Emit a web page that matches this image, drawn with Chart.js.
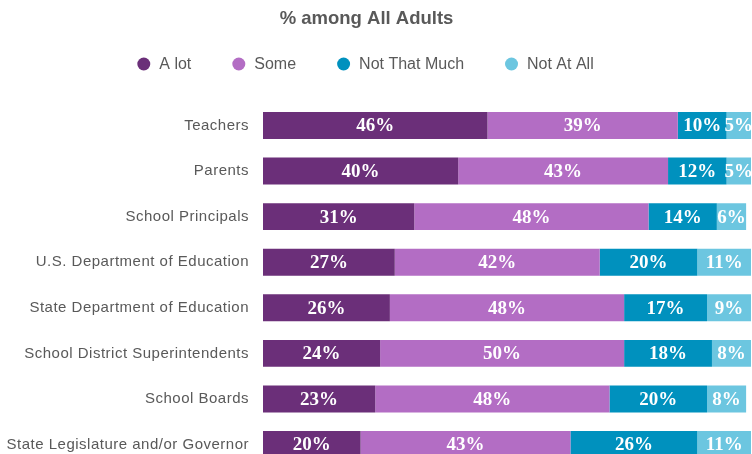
<!DOCTYPE html>
<html><head><meta charset="utf-8">
<script src="https://cdn.jsdelivr.net/npm/chart.js@4"></script>
<style>html,body{margin:0;padding:0;background:#fff;overflow:hidden;}#wrap{position:relative;width:752px;height:470px;}</style>
</head><body>
<div id="wrap"><canvas id="c"></canvas></div>
<script>
const categories = ["Teachers","Parents","School Principals","U.S. Department of Education","State Department of Education","School District Superintendents","School Boards","State Legislature and/or Governor"];
const aLot = [46,40,31,27,26,24,23,20];
const some = [39,43,48,42,48,50,48,43];
const notThatMuch = [10,12,14,20,17,18,20,26];
const notAtAll = [5,5,6,11,9,8,8,11];
const seriesNames = ["A lot","Some","Not That Much","Not At All"];
const titleText = "% among All Adults";
const colors = ["#6b2f79","#b36dc4","#0091be","#6cc6e0"];
const SANS = '"Liberation Sans", Arial, sans-serif';

const spacingPlugin = {
  id:'tickSpacing',
  beforeDraw(chart){ chart.ctx.letterSpacing = '0.5px'; },
  beforeDatasetsDraw(chart){ chart.ctx.letterSpacing = '0px'; }
};

const labelPlugin = {
  id:'segLabels',
  afterDatasetsDraw(chart){
    const ctx = chart.ctx;
    ctx.save();
    ctx.letterSpacing = '0px';
    ctx.font = 'bold 19px "Liberation Serif", serif';
    ctx.fillStyle = '#ffffff';
    ctx.textAlign = 'center';
    ctx.textBaseline = 'middle';
    chart.data.datasets.forEach((ds,di)=>{
      const meta = chart.getDatasetMeta(di);
      meta.data.forEach((bar,i)=>{
        const cx = (bar.x + bar.base)/2;
        ctx.fillText(ds.data[i] + '%', cx, bar.y + 1);
      });
    });
    ctx.restore();
  }
};

const headerPlugin = {
  id:'header',
  afterDraw(chart){
    const ctx = chart.ctx;
    const cxCenter = 365.5;
    ctx.save();
    ctx.letterSpacing = '0px';
    ctx.fillStyle = '#595959';
    ctx.textBaseline = 'middle';
    ctx.textAlign = 'center';
    ctx.font = 'bold 18.5px ' + SANS;
    ctx.fillText(titleText, cxCenter + 1, 19);
    ctx.font = '16px ' + SANS;
    const r = 6.5, textGap = 15.5, itemGap = 41;
    const widths = seriesNames.map(n => ctx.measureText(n).width);
    let total = 0;
    widths.forEach((w,i)=>{ total += r + textGap + w + (i < widths.length-1 ? itemGap : 0); });
    let x = cxCenter - total/2;
    const y = 64;
    ctx.textAlign = 'left';
    seriesNames.forEach((n,i)=>{
      const cx = x + r;
      ctx.beginPath();
      ctx.fillStyle = colors[i];
      ctx.arc(cx, y, r, 0, Math.PI*2);
      ctx.fill();
      ctx.fillStyle = '#595959';
      ctx.fillText(n, cx + textGap, y + 1);
      x = cx + textGap + widths[i] + itemGap;
    });
    ctx.restore();
  }
};

new Chart(document.getElementById('c'), {
  type:'bar',
  data:{
    labels:categories,
    datasets:[aLot,some,notThatMuch,notAtAll].map((d,i)=>({
      label:seriesNames[i], data:d, backgroundColor:colors[i], borderWidth:0,
      barPercentage:0.59, categoryPercentage:1
    }))
  },
  options:{
    indexAxis:'y',
    responsive:true,
    maintainAspectRatio:false,
    animation:false,
    layout:{padding:{left:0,right:1,top:102.7,bottom:2.7}},
    scales:{
      x:{stacked:true,min:0,max:100,display:false},
      y:{stacked:true,grid:{display:false,drawTicks:false},border:{display:false},
         ticks:{color:'#595959',font:{family:SANS,size:15},padding:14},
         afterFit(scale){scale.width=263;scale.paddingTop=0;scale.paddingBottom=0;}}
    },
    plugins:{
      title:{display:false},
      legend:{display:false},
      tooltip:{enabled:false}
    }
  },
  plugins:[spacingPlugin,labelPlugin,headerPlugin]
});
</script>
</body></html>
